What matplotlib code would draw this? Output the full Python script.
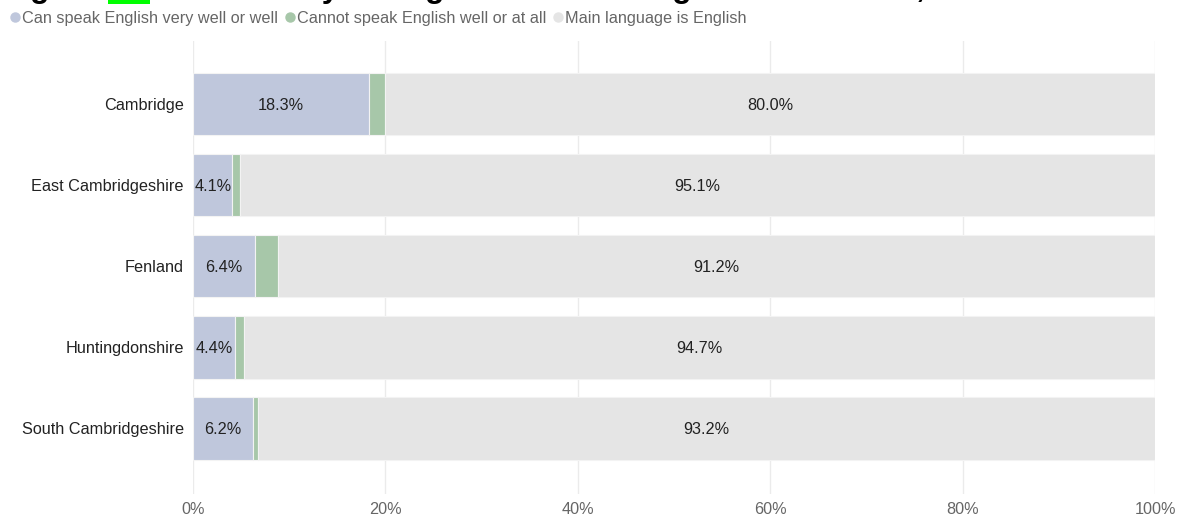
import matplotlib
matplotlib.use("Agg")
import matplotlib.pyplot as plt
from matplotlib.lines import Line2D

plt.rcParams["font.family"] = ["Liberation Sans", "DejaVu Sans"]

# Share of residents (%) by English proficiency, per district
districts = ["Cambridge", "East Cambridgeshire", "Fenland", "Huntingdonshire", "South Cambridgeshire"]
speak_well = [18.3, 4.1, 6.4, 4.4, 6.2]
speak_poorly = [1.7, 0.8, 2.4, 0.9, 0.6]
main_english = [80.0, 95.1, 91.2, 94.7, 93.2]

series_names = ["Can speak English very well or well",
                "Cannot speak English well or at all",
                "Main language is English"]
series_colors = ["#bfc7dc", "#a7c7a9", "#e5e5e5"]
x_ticks = [0, 20, 40, 60, 80, 100]
x_tick_labels = ["0%", "20%", "40%", "60%", "80%", "100%"]

FS = 11.7

fig = plt.figure(figsize=(11.79, 5.20), dpi=100)
ax = fig.add_axes([193 / 1179, 1 - 494 / 520, (1155 - 193) / 1179, (494 - 41) / 520])

y = list(range(len(districts)))
bar_h = 0.77
left = [0.0] * len(districts)
for vals, name, col in zip([speak_well, speak_poorly, main_english], series_names, series_colors):
    bars = ax.barh(y, vals, left=left, height=bar_h, color=col, label=name,
                   edgecolor="#f3f3f3", linewidth=0.8, zorder=2)
    if vals is not speak_poorly:
        for rect, v in zip(bars, vals):
            ax.text(rect.get_x() + rect.get_width() / 2, rect.get_y() + rect.get_height() / 2,
                    f"{v:.1f}%", ha="center", va="center_baseline", fontsize=FS,
                    color="#222222", zorder=3)
    left = [a + b for a, b in zip(left, vals)]

ax.set_xlim(0, 100)
ax.set_ylim(4.81, -0.78)
ax.set_yticks(y)
ax.set_yticklabels(districts, fontsize=FS, color="#222222", va="center_baseline")
ax.set_xticks(x_ticks)
ax.set_xticklabels(x_tick_labels, fontsize=FS, color="#666666")
ax.tick_params(axis="both", length=0)
ax.tick_params(axis="x", pad=5.5)
ax.tick_params(axis="y", pad=6.5)
ax.grid(axis="x", color="#ebebeb", linewidth=1, zorder=0)
ax.set_axisbelow(True)
for s in ax.spines.values():
    s.set_visible(False)

handles = [Line2D([], [], marker="o", linestyle="none", markersize=6.5,
                  markerfacecolor=c, markeredgecolor=c) for c in series_colors]
fig.legend(handles, series_names, loc="center left", bbox_to_anchor=(9 / 1179, 1 - 18.5 / 520),
           ncol=3, frameon=False, fontsize=FS, labelcolor="#666666",
           handlelength=0.7, handletextpad=0.1, columnspacing=0.36,
           borderaxespad=0, borderpad=0)

# Chart title, set above the plotting area
t1 = fig.text(2.4 / 1179, 1 + 3 / 520, "Figure ", fontsize=22.7, fontweight="bold",
              ha="left", va="baseline", color="black")
t2 = fig.text(0, 0, "XX", fontsize=22.7, fontweight="bold", ha="left", va="baseline",
              color="black", bbox=dict(facecolor="#00ff00", edgecolor="none", pad=0))
t3 = fig.text(0, 0, ": Proficiency in English in Cambridgeshire districts, 2021",
              fontsize=22.7, fontweight="bold", ha="left", va="baseline", color="black")

fig.canvas.draw()
r = fig.canvas.get_renderer()
inv = fig.transFigure.inverted()
b1 = t1.get_window_extent(r)
t2.set_position((inv.transform((b1.x1, 0))[0], 1 + 3 / 520))
b2 = t2.get_window_extent(r)
t3.set_position((inv.transform((b2.x1, 0))[0], 1 + 3 / 520))

fig.savefig("out.png", dpi=100, facecolor="white")
